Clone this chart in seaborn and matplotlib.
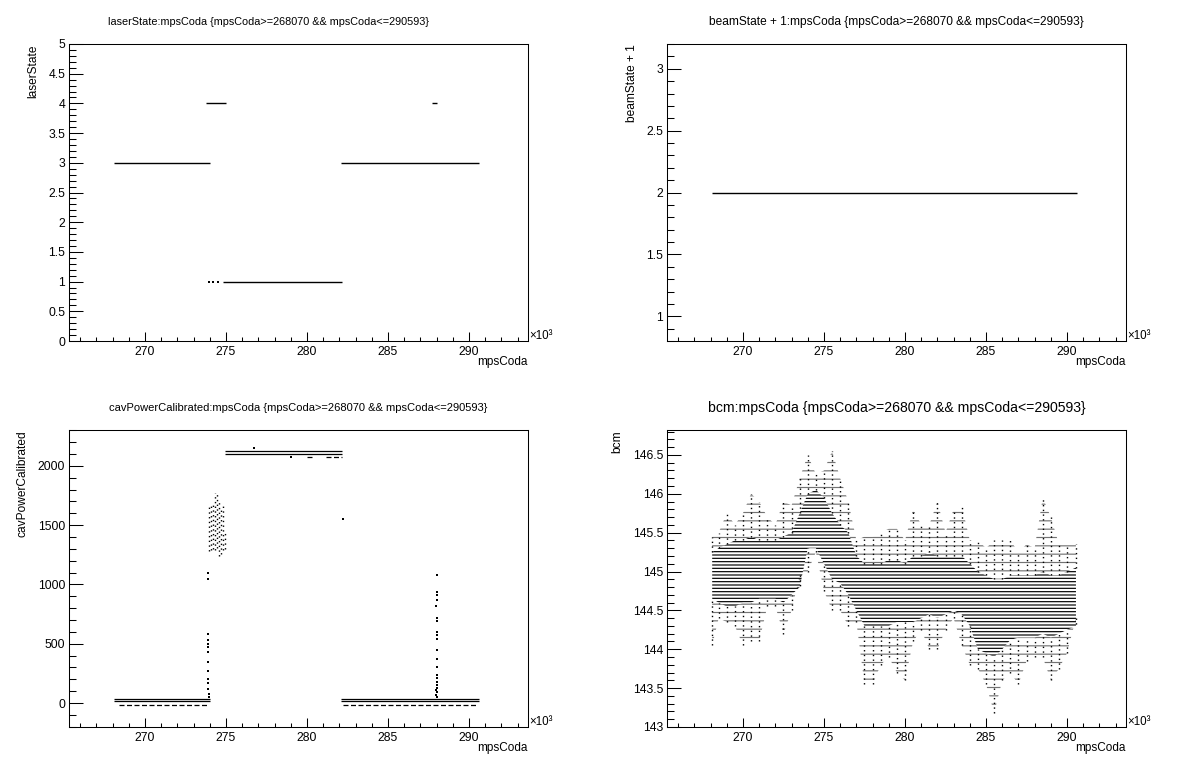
import numpy as np
import pandas as pd
import matplotlib
matplotlib.use("Agg")
import matplotlib.pyplot as plt
import seaborn as sns
from matplotlib.ticker import MultipleLocator, FuncFormatter

# ---------------- data (mpsCoda in units of 10^3) ----------------
x_range = (265.33, 293.62)
title_ls = "laserState:mpsCoda {mpsCoda>=268070 && mpsCoda<=290593}"
title_bs = "beamState + 1:mpsCoda {mpsCoda>=268070 && mpsCoda<=290593}"
title_cp = "cavPowerCalibrated:mpsCoda {mpsCoda>=268070 && mpsCoda<=290593}"
title_bc = "bcm:mpsCoda {mpsCoda>=268070 && mpsCoda<=290593}"

# laserState : runs of constant value
laser_seg_start = [268.07, 282.12, 273.77, 287.73, 274.83]
laser_seg_end = [274.00, 290.59, 275.02, 288.04, 282.15]
laser_seg_val = [3, 3, 4, 4, 1]
laser_pt_x = [273.96, 274.22, 274.48]
laser_pt_y = [1, 1, 1]

# beamState + 1
beam_seg_start = [268.07]
beam_seg_end = [290.59]
beam_seg_val = [2]

# cavPowerCalibrated
cav_seg_start = [268.07, 268.07, 282.12, 282.12, 274.95, 274.95]
cav_seg_end = [274.00, 274.00, 290.59, 290.59, 282.15, 282.15]
cav_seg_val = [35, 15, 35, 15, 2126, 2104]
cav_dash_start = [268.40, 282.20, 280.00, 281.20]
cav_dash_end = [273.95, 290.45, 280.40, 282.15]
cav_dash_val = [-17, -17, 2075, 2075]
cav_cluster_x = [273.97, 274.09, 274.21, 274.33, 274.45, 274.57, 274.69, 274.81, 274.93]
cav_cluster_lo = [1280, 1290, 1300, 1290, 1310, 1240, 1260, 1290, 1300]
cav_cluster_hi = [1650, 1660, 1690, 1770, 1760, 1700, 1650, 1680, 1450]
cav_pt_x = [273.86, 273.87, 273.88, 273.88, 273.89, 273.89, 273.90, 273.90, 273.91,
            273.91, 273.92, 273.92, 273.93, 273.93,
            288.03, 288.00, 288.00, 288.02, 287.98, 288.00, 288.03, 288.05, 288.05,
            288.03, 288.02, 288.00, 288.02, 288.00, 288.03, 288.05, 288.00, 288.02,
            287.98, 288.00, 287.95, 288.05,
            276.70, 282.20, 279.00]
cav_pt_y = [1100, 1050, 580, 530, 500, 470, 430, 350, 270,
            200, 170, 120, 80, 50,
            1080, 940, 910, 870, 820, 720, 690, 600, 570,
            540, 450, 370, 300, 240, 210, 180, 150, 130,
            110, 90, 70, 55,
            2152, 1553, 2075]

# bcm : envelope of the point cloud per column
bcm_x = [268.1, 268.5, 269.0, 269.5, 270.0, 270.5, 271.0, 271.5, 272.0, 272.5,
         273.0, 273.5, 274.0, 274.5, 275.0, 275.5, 276.0, 276.5, 277.0, 277.5,
         278.0, 278.5, 279.0, 279.5, 280.0, 280.5, 281.0, 281.5, 282.0, 282.5,
         283.0, 283.5, 284.0, 284.5, 285.0, 285.5, 286.0, 286.5, 287.0, 287.5,
         288.0, 288.5, 289.0, 289.5, 290.0, 290.55]
bcm_core_lo = [144.65, 144.60, 144.55, 144.55, 144.60, 144.60, 144.65, 144.65, 144.65, 144.60,
               144.70, 144.80, 145.30, 145.30, 145.10, 144.90, 144.85, 144.70, 144.50, 144.30,
               144.30, 144.30, 144.30, 144.35, 144.35, 144.35, 144.40, 144.45, 144.40, 144.45,
               144.50, 144.45, 144.30, 144.00, 143.95, 143.90, 144.00, 144.12, 144.15, 144.15,
               144.15, 144.20, 144.15, 144.20, 144.25, 144.30]
bcm_core_hi = [145.25, 145.30, 145.35, 145.40, 145.40, 145.45, 145.40, 145.40, 145.40, 145.45,
               145.50, 145.75, 146.00, 146.05, 145.95, 145.75, 145.60, 145.50, 145.20, 145.10,
               145.10, 145.10, 145.15, 145.15, 145.10, 145.20, 145.20, 145.25, 145.20, 145.20,
               145.20, 145.20, 145.10, 145.00, 144.95, 144.90, 144.90, 144.95, 144.95, 144.95,
               144.95, 145.00, 144.95, 144.95, 145.00, 145.05]
bcm_tail_lo = [144.05, 144.40, 144.35, 144.30, 144.05, 144.10, 144.10, 144.55, 144.55, 144.20,
               144.50, 144.95, 145.00, 145.25, 144.75, 144.50, 144.50, 144.30, 144.35, 143.55,
               143.55, 143.80, 143.90, 143.70, 143.60, 144.10, 144.25, 144.00, 144.00, 144.25,
               144.40, 144.05, 143.80, 143.75, 143.55, 143.18, 143.60, 143.70, 143.55, 143.85,
               143.90, 143.90, 143.60, 143.75, 143.95, 144.40]
bcm_tail_hi = [145.45, 145.50, 145.75, 145.60, 145.75, 146.00, 145.90, 145.70, 145.60, 145.90,
               145.85, 146.20, 146.50, 146.25, 146.30, 146.55, 146.20, 145.90, 145.40, 145.45,
               145.45, 145.50, 145.55, 145.55, 145.40, 145.80, 145.60, 145.60, 145.90, 145.50,
               145.80, 145.85, 145.40, 145.40, 145.30, 145.40, 145.40, 145.40, 145.25, 145.35,
               145.30, 145.95, 145.70, 145.35, 145.35, 145.35]

# ---------------- style ----------------
sns.set_style("white")
plt.rcParams["font.family"] = ["Liberation Sans", "DejaVu Sans"]
for k in ["text.color", "axes.labelcolor", "xtick.color", "ytick.color", "axes.edgecolor"]:
    plt.rcParams[k] = "black"
plt.rcParams["hatch.linewidth"] = 0.85
plt.rcParams["hatch.color"] = "black"

W, H = 1196, 772
fig = plt.figure(figsize=(W / 100, H / 100), dpi=100)
fig.patch.set_facecolor("white")


def add_ax(l, t, r, b):
    return fig.add_axes([l / W, 1 - b / H, (r - l) / W, (b - t) / H])


ax_ls = add_ax(69.3, 44, 527.7, 341)
ax_bs = add_ax(667.3, 44, 1125.7, 341)
ax_cp = add_ax(69.3, 430, 527.7, 727)
ax_bc = add_ax(667.3, 430, 1125.7, 727)

fmt = FuncFormatter(lambda v, p: f"{v:g}")


def style(ax, ylim, ymaj, ymin, ylabel, ylab_x):
    ax.set_xlim(*x_range)
    ax.set_ylim(*ylim)
    ax.set_xlabel("")
    ax.set_ylabel("")
    ax.xaxis.set_major_locator(MultipleLocator(5))
    ax.xaxis.set_minor_locator(MultipleLocator(1))
    ax.yaxis.set_major_locator(MultipleLocator(ymaj))
    ax.yaxis.set_minor_locator(MultipleLocator(ymin))
    ax.xaxis.set_major_formatter(fmt)
    ax.yaxis.set_major_formatter(fmt)
    ax.tick_params(axis="x", which="major", direction="in", length=6.4, width=0.75,
                   labelsize=8.7, pad=3.4, bottom=True, top=False)
    ax.tick_params(axis="x", which="minor", direction="in", length=3.2, width=0.75,
                   bottom=True, top=False)
    ax.tick_params(axis="y", which="major", direction="in", length=9.9, width=0.75,
                   labelsize=8.7, pad=3.0, left=True, right=False)
    ax.tick_params(axis="y", which="minor", direction="in", length=5.0, width=0.75,
                   left=True, right=False)
    for s in ax.spines.values():
        s.set_visible(True)
        s.set_linewidth(0.75)
        s.set_color("black")
    ax.text(1.0, -0.0715, "mpsCoda", transform=ax.transAxes, ha="right", va="center",
            fontsize=8.5)
    ax.text(1.004, -0.004, "×10³", transform=ax.transAxes, ha="left", va="bottom",
            fontsize=8.3)
    ax.text(ylab_x, 1.0, ylabel, transform=ax.transAxes, rotation=90, ha="center",
            va="top", fontsize=8.6)


def pts(ax, x, y):
    sns.scatterplot(x=x, y=y, ax=ax, marker="s", s=1.1, color="black",
                    linewidth=0, legend=False)


# laserState
ax_ls.hlines(laser_seg_val, laser_seg_start, laser_seg_end, color="black", lw=1.0)
pts(ax_ls, laser_pt_x, laser_pt_y)
style(ax_ls, (0, 5), 0.5, 0.1, "laserState", -0.0779)

# beamState + 1
ax_bs.hlines(beam_seg_val, beam_seg_start, beam_seg_end, color="black", lw=1.0)
style(ax_bs, (0.8, 3.2), 0.5, 0.1, "beamState + 1", -0.0764)

# cavPowerCalibrated
ax_cp.hlines(cav_seg_val, cav_seg_start, cav_seg_end, color="black", lw=0.9)
ax_cp.hlines(cav_dash_val, cav_dash_start, cav_dash_end, color="black", lw=0.9,
             linestyles=[(0, (4, 2))])
ax_cp.vlines(cav_cluster_x, cav_cluster_lo, cav_cluster_hi, color="black", lw=1.0,
             linestyles=[(0, (1, 2.4))])
pts(ax_cp, cav_pt_x, cav_pt_y)
style(ax_cp, (-202, 2303), 500, 100, "cavPowerCalibrated", -0.1012)

# bcm : dense core (rows of points) + sparser fringes + spikes
ax_bc.fill_between(bcm_x, bcm_core_lo, bcm_core_hi, facecolor="none",
                   edgecolor="black", hatch="-----", linewidth=0)
ax_bc.fill_between(bcm_x, bcm_tail_lo, bcm_core_lo, facecolor="none",
                   edgecolor="black", hatch="--", linewidth=0, alpha=0.55)
ax_bc.fill_between(bcm_x, bcm_core_hi, bcm_tail_hi, facecolor="none",
                   edgecolor="black", hatch="--", linewidth=0, alpha=0.55)
ax_bc.vlines(bcm_x, bcm_tail_lo, bcm_core_lo, color="black", lw=1.0,
             linestyles=[(0, (1, 2.4))])
ax_bc.vlines(bcm_x, bcm_core_hi, bcm_tail_hi, color="black", lw=1.0,
             linestyles=[(0, (1, 2.4))])
style(ax_bc, (143, 146.82), 0.5, 0.1, "bcm", -0.1095)

# titles (auto-shrunk to fit a box width, like ROOT)
renderer = fig.canvas.get_renderer()
for text, cx, cy, wmax in [(title_ls, 268.0, 22, 322), (title_bs, 896.5, 22, 377),
                           (title_cp, 298.5, 408, 377), (title_bc, 896.5, 408, 377)]:
    t = fig.text(cx / W, 1 - cy / H, text, ha="center", va="center", fontsize=10.1)
    w = t.get_window_extent(renderer=renderer).width
    if w > wmax:
        t.set_fontsize(10.1 * wmax / w)

fig.savefig("out.png", dpi=100, facecolor="white")
